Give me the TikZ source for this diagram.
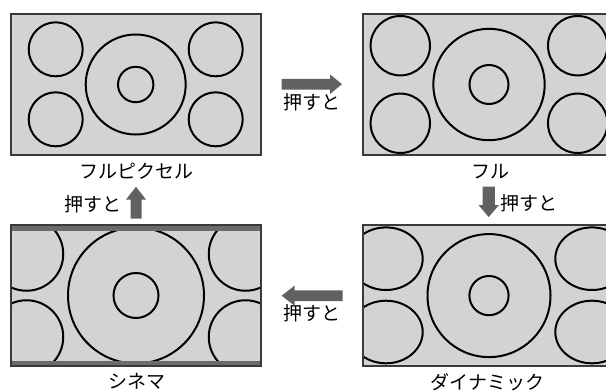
\documentclass[tikz,border=0pt]{standalone}
\usepackage{fontspec}
\setmainfont{Noto Sans CJK JP}
\definecolor{panelgray}{HTML}{D3D3D3}
\definecolor{bordergray}{HTML}{3A3A3A}
\definecolor{bargray}{HTML}{6B6B6B}
\definecolor{arrowgray}{HTML}{616161}
\tikzset{
  panel/.style={fill=panelgray},
  panelborder/.style={draw=bordergray, line width=2pt},
  ring/.style={draw=black, line width=2pt},
  lbl/.style={font=\fontsize{19}{23}\selectfont, inner sep=0pt},
  blockarrow/.style={fill=arrowgray},
}
\begin{document}
\begin{tikzpicture}[x=1pt,y=-1pt]
\useasboundingbox (0,0) rectangle (606,391);

% ---------- Panel 1: full pixel ----------
\fill[panel] (10.7,14) rectangle (260.7,155);
\begin{scope}
  \clip (10.7,14) rectangle (260.7,155);
  \draw[ring] (55.7,49.3) circle[radius=27pt];
  \draw[ring] (55.7,119.3) circle[radius=27pt];
  \draw[ring] (215.7,49.3) circle[radius=27pt];
  \draw[ring] (215.7,119.3) circle[radius=27pt];
  \draw[ring] (135.7,84.5) circle[radius=50pt];
  \draw[ring] (135.7,84.5) circle[radius=17.7pt];
\end{scope}
\draw[panelborder] (10.7,14) rectangle (260.7,155);

% ---------- Panel 2: full ----------
\fill[panel] (363.3,14) rectangle (614,155);
\begin{scope}
  \clip (363.3,14) rectangle (614,155);
  \draw[ring] (400.3,45.7) circle[radius=29.7pt];
  \draw[ring] (400.3,123.3) circle[radius=29.7pt];
  \draw[ring] (577.7,45.7) circle[radius=29.7pt];
  \draw[ring] (577.7,123.3) circle[radius=29.7pt];
  \draw[ring] (489,84.5) circle[radius=55.7pt];
  \draw[ring] (489,84.5) circle[radius=19.5pt];
\end{scope}
\draw[panelborder] (363.3,14) rectangle (614,155);

% ---------- Panel 3: cinema ----------
\fill[panel] (10.7,225) rectangle (260.7,366);
\begin{scope}
  \clip (10.7,225) rectangle (260.7,366);
  \draw[ring] (26.5,254) circle[radius=36.75pt];
  \draw[ring] (26.5,337) circle[radius=36.75pt];
  \draw[ring] (245.5,254) circle[radius=36.75pt];
  \draw[ring] (245.5,337) circle[radius=36.75pt];
  \draw[ring] (136,295.5) circle[radius=68pt];
  \draw[ring] (136,295.5) circle[radius=22.5pt];
  \fill[bargray] (10.7,225) rectangle (260.7,230.7);
  \fill[bargray] (10.7,360.7) rectangle (260.7,366);
\end{scope}
\draw[panelborder] (10.7,225) rectangle (260.7,366);

% ---------- Panel 4: dynamic ----------
\fill[panel] (363.3,225) rectangle (614,366);
\begin{scope}
  \clip (363.3,225) rectangle (614,366);
  \draw[ring] (386,258.7) ellipse[x radius=36.7pt, y radius=31.3pt];
  \draw[ring] (386,332) ellipse[x radius=36.7pt, y radius=31.3pt];
  \draw[ring] (592,258.7) ellipse[x radius=36.7pt, y radius=31.3pt];
  \draw[ring] (592,332) ellipse[x radius=36.7pt, y radius=31.3pt];
  \draw[ring] (489,295.6) circle[radius=61.5pt];
  \draw[ring] (489,295.6) circle[radius=19.6pt];
\end{scope}
\draw[panelborder] (363.3,225) rectangle (614,366);

% ---------- Labels ----------
\node[lbl] (lfullpix) at (136.7,171.7) {フルピクセル};
\node[lbl] (lfull) at (490,171.7) {フル};
\node[lbl] (lcinema) at (136.7,381.7) {シネマ};
\node[lbl] (ldynamic) at (487.5,381.7) {ダイナミック};

\node[lbl] (pushR) at (311.5,102.5) {押すと};
\node[lbl] (pushL) at (311.5,313.5) {押すと};
\node[lbl] (pushU) at (92.5,204) {押すと};
\node[lbl] (pushD) at (528.5,203) {押すと};

% ---------- Block arrows ----------
% right
\fill[blockarrow] (281.7,78.9) -- (330,78.9) -- (330,74.4) -- (342,84.2)
  -- (330,94) -- (330,89.5) -- (281.7,89.5) -- cycle;
% left
\fill[blockarrow] (342.7,290.4) -- (294.5,290.4) -- (294.5,285.7) -- (281.7,295.7)
  -- (294.5,305.7) -- (294.5,301) -- (342.7,301) -- cycle;
% up
\fill[blockarrow] (130.5,218.5) -- (130.5,199.5) -- (126,199.5) -- (136,186.7)
  -- (146,199.5) -- (141.5,199.5) -- (141.5,218.5) -- cycle;
% down
\fill[blockarrow] (482.5,186.7) -- (482.5,205) -- (478.5,205) -- (488.7,217)
  -- (499,205) -- (494.8,205) -- (494.8,186.7) -- cycle;
\end{tikzpicture}
\end{document}
